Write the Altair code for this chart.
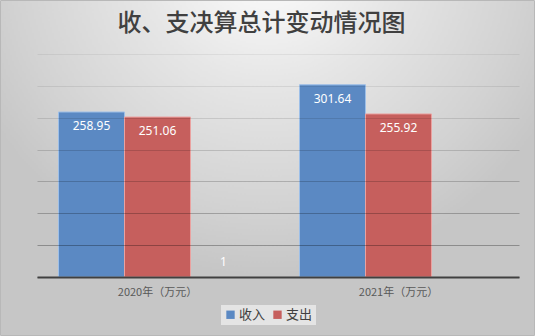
import altair as alt
import pandas as pd

years = ["2020年（万元）", "2021年（万元）"]
series = ["收入", "支出", "系列3"]
income = [258.95, 301.64]
expense = [251.06, 255.92]
other = [1, None]
colors = ["#5b89c3", "#c65f5d", "#ffffff"]
title_text = "收、支决算总计变动情况图"

rows = []
for i, y in enumerate(years):
    for s, vals in zip(series, [income, expense, other]):
        if vals[i] is not None:
            rows.append({"year": y, "series": s, "value": vals[i]})
df = pd.DataFrame(rows)

W, H = 471, 223
PL, PT, PR, PB = 37, 54, 27, 59

grid_opacity = {
    "condition": [
        {"test": "datum.value >= 350", "value": 0.06},
        {"test": "datum.value >= 300", "value": 0.08},
        {"test": "datum.value >= 250", "value": 0.11},
        {"test": "datum.value >= 200", "value": 0.15},
        {"test": "datum.value >= 150", "value": 0.19},
        {"test": "datum.value >= 100", "value": 0.24},
    ],
    "value": 0.29,
}

bg = alt.Chart(alt.Data(values=[{}])).mark_rect(
    fill=alt.Gradient(
        gradient="radial",
        x1=0.5, y1=0.1, r1=0.0,
        x2=0.5, y2=0.1, r2=0.6,
        stops=[
            alt.GradientStop(color="#ffffff", offset=0),
            alt.GradientStop(color="#e6e6e6", offset=0.4),
            alt.GradientStop(color="#d2d2d2", offset=0.8),
            alt.GradientStop(color="#c6c6c6", offset=1),
        ],
    ),
    stroke="#b8b8b8",
    strokeWidth=1,
).encode(
    x=alt.value(-PL + 0.5), x2=alt.value(W + PR - 0.5),
    y=alt.value(-PT + 0.5), y2=alt.value(H + PB - 0.5),
)

base = alt.Chart(df).encode(
    x=alt.X("year:N", sort=years,
            scale=alt.Scale(paddingInner=0, paddingOuter=0, range=[0, 482]),
            axis=alt.Axis(title=None, labelAngle=0, labelFontSize=11,
                          labelColor="#595959", labelPadding=9,
                          labelFont="Noto Sans CJK SC",
                          domainColor="#404040", domainWidth=2,
                          ticks=False, grid=False, zindex=2)),
    xOffset=alt.XOffset("series:N", sort=series,
                        scale=alt.Scale(domain=series, paddingInner=0, paddingOuter=0.326)),
    y=alt.Y("value:Q",
            scale=alt.Scale(domain=[0, 350], nice=False),
            axis=alt.Axis(title=None, labels=False, ticks=False, domain=False,
                          values=[0, 50, 100, 150, 200, 250, 300, 350],
                          gridColor="#000000", gridOpacity=grid_opacity,
                          gridWidth=1, zindex=1)),
)

bars = base.mark_bar(strokeWidth=1).encode(
    color=alt.Color("series:N", sort=series,
                    scale=alt.Scale(domain=series, range=colors),
                    legend=alt.Legend(values=["收入", "支出"], title=None,
                                      orient="none", direction="horizontal",
                                      legendX=184, legendY=251,
                                      symbolType="square", symbolSize=70,
                                      symbolStrokeWidth=0,
                                      labelFontSize=13, labelColor="#404040",
                                      labelFont="Noto Sans CJK SC",
                                      labelOffset=2, columnPadding=5,
                                      fillColor="#e4e4e4", padding=3)),
    stroke=alt.Stroke("series:N", sort=series,
                      scale=alt.Scale(domain=series,
                                      range=["#9dbfe8", "#eaa2a0", "#ffffff"]),
                      legend=None),
    fillOpacity=alt.condition("datum.series == '系列3'", alt.value(0), alt.value(1)),
    strokeOpacity=alt.condition("datum.series == '系列3'", alt.value(0), alt.value(1)),
)

labels = base.transform_filter("datum.series != '系列3'").mark_text(
    color="white", fontSize=12, font="Noto Sans", baseline="middle", dy=14
).encode(text=alt.Text("value:Q", format=".2f"))

labels3 = base.transform_filter("datum.series == '系列3'").mark_text(
    color="white", fontSize=12, font="Noto Sans", baseline="middle", dy=-14
).encode(text=alt.Text("value:Q", format="d"))

chart = alt.layer(bg, bars, labels, labels3).properties(
    width=W, height=H,
    autosize=alt.AutoSizeParams(type="none"),
    padding={"left": PL, "top": PT, "right": PR, "bottom": PB},
    title=alt.TitleParams(title_text, fontSize=24, font="Noto Sans CJK SC",
                          fontWeight=500, color="#404040", anchor="middle",
                          baseline="middle", dx=-11, dy=48, offset=0),
).configure_view(stroke=None)

chart.save("out.html", embed_options={"renderer": "svg", "actions": False})
